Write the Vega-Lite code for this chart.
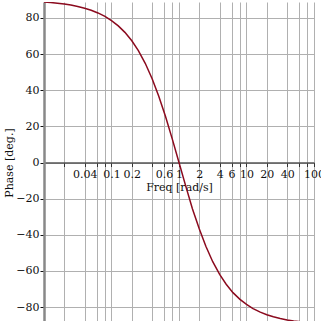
{
  "$schema": "https://vega.github.io/schema/vega-lite/v6.json",
  "width": 270,
  "height": 321,
  "autosize": {"type": "none"},
  "padding": {"left": 44, "top": 2, "right": 7, "bottom": 0},
  "background": "white",
  "config": {
    "view": {"stroke": null},
    "axis": {"labelFont": "DejaVu Serif", "titleFont": "DejaVu Serif", "labelFontSize": 11, "titleFontSize": 11, "titleFontWeight": "normal", "labelColor": "#111", "titleColor": "#111"}
  },
  "data": {"values": [
    {"freq": 0.01, "phase": 88.85}, {"freq": 0.0126, "phase": 88.56}, {"freq": 0.0158, "phase": 88.19},
    {"freq": 0.02, "phase": 87.71}, {"freq": 0.025, "phase": 87.14}, {"freq": 0.0316, "phase": 86.38},
    {"freq": 0.04, "phase": 85.42}, {"freq": 0.05, "phase": 84.28}, {"freq": 0.063, "phase": 82.79},
    {"freq": 0.08, "phase": 80.85}, {"freq": 0.1, "phase": 78.58}, {"freq": 0.126, "phase": 75.64},
    {"freq": 0.158, "phase": 72.04}, {"freq": 0.2, "phase": 67.38}, {"freq": 0.25, "phase": 61.93},
    {"freq": 0.316, "phase": 54.92}, {"freq": 0.4, "phase": 46.4}, {"freq": 0.5, "phase": 36.87},
    {"freq": 0.63, "phase": 25.6}, {"freq": 0.8, "phase": 12.68}, {"freq": 1, "phase": 0},
    {"freq": 1.25, "phase": -12.68}, {"freq": 1.58, "phase": -25.6}, {"freq": 2, "phase": -36.87},
    {"freq": 2.5, "phase": -46.4}, {"freq": 3.16, "phase": -54.92}, {"freq": 4, "phase": -61.93},
    {"freq": 5, "phase": -67.38}, {"freq": 6.3, "phase": -72.04}, {"freq": 8, "phase": -75.75},
    {"freq": 10, "phase": -78.58}, {"freq": 12.5, "phase": -80.85}, {"freq": 16, "phase": -82.85},
    {"freq": 20, "phase": -84.28}, {"freq": 25, "phase": -85.42}, {"freq": 31.6, "phase": -86.38},
    {"freq": 40, "phase": -87.14}, {"freq": 50, "phase": -87.71}, {"freq": 63, "phase": -88.19},
    {"freq": 80, "phase": -88.57}, {"freq": 100, "phase": -88.85}
  ]},
  "mark": {"type": "line", "color": "#8B0A1E", "strokeWidth": 1.5, "clip": true},
  "encoding": {
    "x": {
      "field": "freq", "type": "quantitative",
      "scale": {"type": "log", "domain": [0.01, 100], "nice": false},
      "axis": {
        "title": "Freq [rad/s]",
        "offset": -160.5,
        "values": [0.01, 0.02, 0.04, 0.06, 0.08, 0.1, 0.2, 0.4, 0.6, 0.8, 1, 2, 4, 6, 8, 10, 20, 40, 60, 80, 100],
        "labelExpr": "indexof([0.04,0.1,0.2,0.6,1,2,4,6,10,20,40,100], datum.value) >= 0 ? format(datum.value, '~g') : ''",
        "labelOverlap": false,
        "labelFlush": false,
        "grid": true, "gridColor": "#b0b0b0", "gridWidth": 1,
        "domainColor": "#555555", "domainWidth": 1.5,
        "tickColor": "#333333", "tickSize": 4,
        "labelPadding": 2, "titlePadding": 2
      }
    },
    "y": {
      "field": "phase", "type": "quantitative",
      "scale": {"domain": [-88.85, 88.85], "nice": false, "zero": false},
      "axis": {
        "title": "Phase [deg.]",
        "values": [-80, -60, -40, -20, 0, 20, 40, 60, 80],
        "grid": true, "gridColor": "#b0b0b0", "gridWidth": 1,
        "domainColor": "#888888", "domainWidth": 2.5,
        "tickColor": "#111111", "tickSize": 4,
        "labelPadding": 1, "titlePadding": 1
      }
    }
  }
}
